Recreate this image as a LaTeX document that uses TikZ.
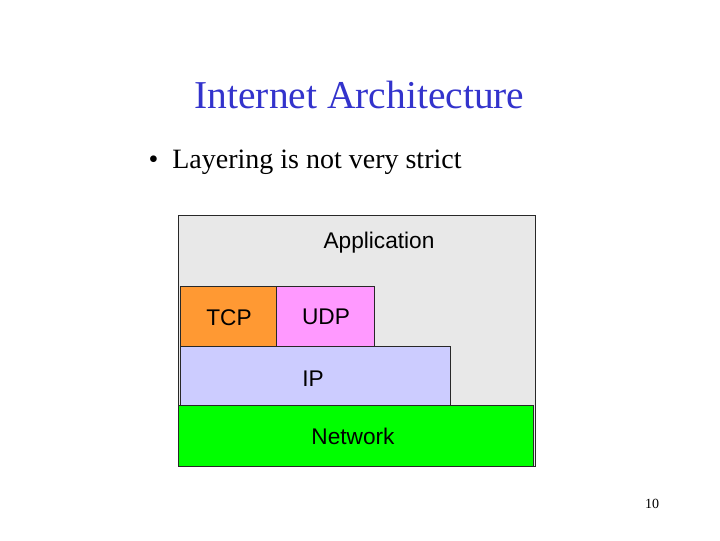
\documentclass[tikz,border=0pt]{standalone}
\usepackage{fontspec}
\setmainfont{Liberation Serif}
\newfontfamily\arialfont{Liberation Sans}
\definecolor{appgray}{RGB}{232,232,232}
\definecolor{tcporange}{RGB}{255,153,51}
\definecolor{udppink}{RGB}{255,153,255}
\definecolor{iplilac}{RGB}{204,204,255}
\definecolor{netgreen}{RGB}{0,255,0}
\definecolor{titleblue}{RGB}{51,51,204}

\tikzset{every picture/.style={line width=0.75pt}}
\tikzset{
  layer/.style={draw={rgb, 255:red, 40; green, 40; blue, 40 }, line width=0.75},
  layertext/.style={inner sep=0.75pt, font=\arialfont\fontsize{17}{20}\selectfont},
}

\begin{document}
\begin{tikzpicture}[x=0.75pt,y=0.75pt,yscale=-1,xscale=1]
\useasboundingbox (0,0) rectangle (720,540);

%Shape: Rectangle [Application]
\draw [layer, fill=appgray] (178,215) rectangle (535,466) ;
%Shape: Rectangle [TCP]
\draw [layer, fill=tcporange] (180,286) rectangle (276,346) ;
%Shape: Rectangle [UDP]
\draw [layer, fill=udppink] (276,286) rectangle (374,346) ;
%Shape: Rectangle [IP]
\draw [layer, fill=iplilac] (180,346) rectangle (450,405) ;
%Shape: Rectangle [Network]
\draw [layer, fill=netgreen] (178,405) rectangle (533,466) ;

% Text Node
\draw (359.5,95) node [inner sep=0.75pt, text=titleblue, font=\fontsize{29.6}{34}\selectfont] (title) {Internet Architecture};
% Text Node
\draw (147,168) node [anchor=base west, inner sep=0.75pt, font=\fontsize{21}{25}\selectfont] (bullet) {\textbullet\ \ Layering is not very strict};
% Text Node
\draw (379,243) node [layertext] (app) {Application};
% Text Node
\draw (229,318) node [layertext] (tcp) {TCP};
% Text Node
\draw (326,317) node [layertext] (udp) {UDP};
% Text Node
\draw (313,379) node [layertext] (ip) {IP};
% Text Node
\draw (353,436) node [layertext] (net) {Network};
% Text Node
\draw (652,504) node [inner sep=0.75pt, font=\fontsize{10.5}{12}\selectfont] (pagenum) {10};

\end{tikzpicture}
\end{document}
